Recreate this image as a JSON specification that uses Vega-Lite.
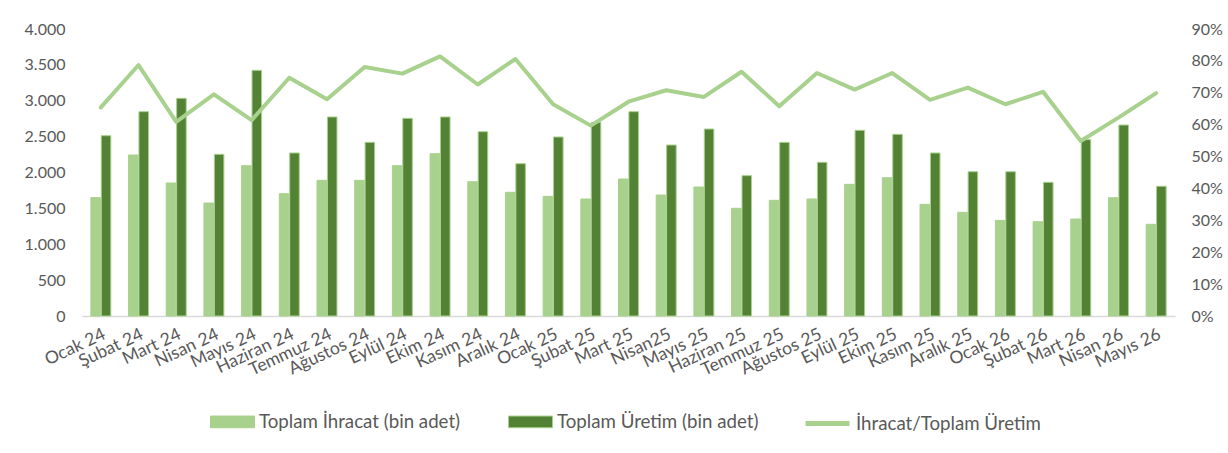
{
  "$schema": "https://vega.github.io/schema/vega-lite/v6.json",
  "autosize": {"type": "none"},
  "padding": {"left": 82, "top": 29, "right": 53, "bottom": 137},
  "width": 1093,
  "height": 287,
  "background": "white",
  "data": {"values": [
    {"month": "Ocak 24", "ihracat": 1650, "uretim": 2513, "oran": 0.654},
    {"month": "Şubat 24", "ihracat": 2244, "uretim": 2848, "oran": 0.787},
    {"month": "Mart 24", "ihracat": 1854, "uretim": 3034, "oran": 0.609},
    {"month": "Nisan 24", "ihracat": 1575, "uretim": 2253, "oran": 0.695},
    {"month": "Mayıs 24", "ihracat": 2095, "uretim": 3424, "oran": 0.614},
    {"month": "Haziran 24", "ihracat": 1705, "uretim": 2272, "oran": 0.747},
    {"month": "Temmuz 24", "ihracat": 1891, "uretim": 2774, "oran": 0.680},
    {"month": "Ağustos 24", "ihracat": 1891, "uretim": 2420, "oran": 0.781},
    {"month": "Eylül 24", "ihracat": 2095, "uretim": 2755, "oran": 0.760},
    {"month": "Ekim 24", "ihracat": 2262, "uretim": 2774, "oran": 0.814},
    {"month": "Kasım 24", "ihracat": 1872, "uretim": 2569, "oran": 0.726},
    {"month": "Aralık 24", "ihracat": 1724, "uretim": 2123, "oran": 0.806},
    {"month": "Ocak 25", "ihracat": 1668, "uretim": 2495, "oran": 0.664},
    {"month": "Şubat 25", "ihracat": 1631, "uretim": 2699, "oran": 0.597},
    {"month": "Mart 25", "ihracat": 1909, "uretim": 2848, "oran": 0.672},
    {"month": "Nisan25", "ihracat": 1686, "uretim": 2383, "oran": 0.708},
    {"month": "Mayıs 25", "ihracat": 1798, "uretim": 2606, "oran": 0.687},
    {"month": "Haziran 25", "ihracat": 1501, "uretim": 1956, "oran": 0.766},
    {"month": "Temmuz 25", "ihracat": 1612, "uretim": 2420, "oran": 0.658},
    {"month": "Ağustos 25", "ihracat": 1631, "uretim": 2142, "oran": 0.762},
    {"month": "Eylül 25", "ihracat": 1835, "uretim": 2588, "oran": 0.710},
    {"month": "Ekim 25", "ihracat": 1928, "uretim": 2532, "oran": 0.762},
    {"month": "Kasım 25", "ihracat": 1557, "uretim": 2272, "oran": 0.678},
    {"month": "Aralık 25", "ihracat": 1445, "uretim": 2011, "oran": 0.716},
    {"month": "Ocak 26", "ihracat": 1333, "uretim": 2011, "oran": 0.664},
    {"month": "Şubat 26", "ihracat": 1315, "uretim": 1863, "oran": 0.703},
    {"month": "Mart 26", "ihracat": 1352, "uretim": 2458, "oran": 0.549},
    {"month": "Nisan 26", "ihracat": 1649, "uretim": 2662, "oran": 0.622},
    {"month": "Mayıs 26", "ihracat": 1278, "uretim": 1808, "oran": 0.699}
  ]},
  "layer": [
    {
      "transform": [{"fold": ["ihracat", "uretim"], "as": ["series", "value"]}],
      "mark": {"type": "bar", "stroke": "#A9D18E", "strokeWidth": 1},
      "encoding": {
        "x": {
          "field": "month", "type": "nominal", "sort": null,
          "scale": {"paddingInner": 0.47, "paddingOuter": 0.235},
          "axis": {
            "title": null, "labelAngle": -25, "domain": true, "domainColor": "#D9D9D9",
            "domainWidth": 1.5, "ticks": false, "labelPadding": 9, "labelFontSize": 17.5
          }
        },
        "xOffset": {"field": "series", "type": "nominal", "sort": ["ihracat", "uretim"], "scale": {"paddingInner": 0.08}},
        "y": {
          "field": "value", "type": "quantitative",
          "scale": {"domain": [0, 4000]},
          "axis": {
            "title": null, "orient": "left", "values": [0, 500, 1000, 1500, 2000, 2500, 3000, 3500, 4000],
            "labelExpr": "replace(format(datum.value, ','), ',', '.')",
            "labelPadding": 17
          }
        },
        "color": {
          "field": "series", "type": "nominal",
          "scale": {"domain": ["ihracat", "uretim"], "range": ["#A9D18E", "#548235"]},
          "legend": {
            "title": null,
            "orient": "none",
            "legendX": 128,
            "legendY": 370,
            "direction": "horizontal",
            "labelExpr": "datum.value == 'ihracat' ? 'Toplam İhracat (bin adet)' : 'Toplam Üretim (bin adet)'",
            "symbolType": "M-1,-0.266H1V0.266H-1Z",
            "symbolSize": 1936,
            "symbolStrokeColor": "#A9D18E",
            "symbolStrokeWidth": 1,
            "columnPadding": 45,
            "labelOffset": 4,
            "padding": 0,
            "labelFontSize": 18.7,
            "labelColor": "#595959",
            "labelFont": "Lato",
            "labelLimit": 400
          }
        }
      }
    },
    {
      "mark": {"type": "line", "strokeWidth": 4, "strokeCap": "round", "strokeJoin": "round"},
      "encoding": {
        "x": {"field": "month", "type": "nominal", "sort": null},
        "y": {
          "field": "oran", "type": "quantitative",
          "scale": {"domain": [0, 0.9]},
          "axis": {
            "title": null, "orient": "right", "values": [0, 0.1, 0.2, 0.3, 0.4, 0.5, 0.6, 0.7, 0.8, 0.9],
            "format": ".0%", "labelPadding": 16
          }
        },
        "color": {
          "datum": "İhracat/Toplam Üretim",
          "scale": {"range": ["#A9D18E"]},
          "legend": {
            "title": null,
            "orient": "none",
            "legendX": 721,
            "legendY": 370,
            "symbolType": "stroke",
            "symbolSize": 1936,
            "symbolStrokeWidth": 5,
            "labelOffset": 4,
            "padding": 0,
            "labelFontSize": 18.7,
            "labelColor": "#595959",
            "labelFont": "Lato",
            "labelLimit": 400
          }
        }
      }
    }
  ],
  "resolve": {"scale": {"y": "independent", "color": "independent"}},
  "config": {
    "font": "Lato",
    "view": {"stroke": null},
    "axis": {
      "labelColor": "#595959", "labelFontSize": 16, "labelFont": "Lato",
      "grid": false, "ticks": false, "domain": false
    }
  }
}
